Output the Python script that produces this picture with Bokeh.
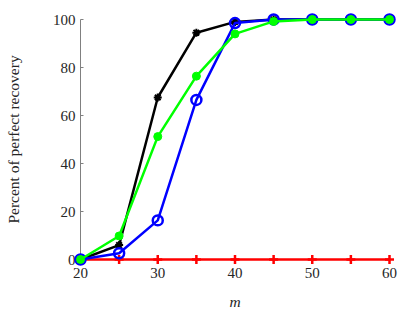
from bokeh.plotting import figure
from bokeh.models import Range1d, FixedTicker
from bokeh.embed import file_html
from bokeh.resources import INLINE

m = [20, 25, 30, 35, 40, 45, 50, 55, 60]
black_vals = [0, 6, 67.5, 94.5, 99, 100, 100, 100, 100]
blue_vals = [0, 2.6, 16.3, 66.5, 98.5, 100, 100, 100, 100]
green_vals = [0, 9.8, 51.2, 76.4, 94, 99.2, 100, 100, 100]
red_vals = [0, 0, 0, 0, 0, 0, 0, 0, 0]
x_ticks = [20, 30, 40, 50, 60]
y_ticks = [0, 20, 40, 60, 80, 100]

p = figure(output_backend="svg", toolbar_location=None,
           frame_width=309, frame_height=240,
           min_border_left=80, min_border_right=18,
           min_border_top=19, min_border_bottom=51,
           x_range=Range1d(20, 60), y_range=Range1d(0, 100))
p.outline_line_color = None
p.grid.visible = False
p.background_fill_color = "white"
p.border_fill_color = "white"

rs = []
# red
rs.append(p.line(m, red_vals, line_color="#ff0000", line_width=2.5))
rs.append(p.scatter(m, red_vals, marker="cross", size=9, line_color="#ff0000", line_width=2.5))
# black
rs.append(p.line(m, black_vals, line_color="#000000", line_width=2.5))
rs.append(p.scatter(m, black_vals, marker="asterisk", size=8, line_color="#000000", line_width=2))
# blue
rs.append(p.line(m, blue_vals, line_color="#0000ff", line_width=2.5))
rs.append(p.scatter(m, blue_vals, marker="circle", size=10, line_color="#0000ff", fill_color=None, line_width=2.5))
# green
rs.append(p.line(m, green_vals, line_color="#00ff00", line_width=2.5))
rs.append(p.scatter(m, green_vals, marker="circle", size=8, line_color="#00ff00", fill_color="#00ff00"))
for r in rs:
    r.level = "overlay"

for ax in (p.xaxis[0], p.yaxis[0]):
    ax.axis_line_color = "#808080"
    ax.axis_line_width = 1
    ax.major_tick_line_color = "#808080"
    ax.major_tick_in = 3
    ax.major_tick_out = 0
    ax.minor_tick_line_color = None
    ax.major_label_text_font = "Liberation Serif"
    ax.major_label_text_font_size = "15px"
    ax.major_label_text_color = "#262626"
    ax.axis_label_text_font = "Liberation Serif"
    ax.axis_label_text_font_size = "15.5px"
    ax.axis_label_text_color = "#262626"
    ax.axis_label_text_font_style = "normal"

p.xaxis[0].ticker = FixedTicker(ticks=x_ticks)
p.yaxis[0].ticker = FixedTicker(ticks=y_ticks)
p.xaxis[0].major_label_standoff = 8
p.yaxis[0].major_label_standoff = 5
p.xaxis[0].axis_label = "m"
p.xaxis[0].axis_label_text_font_style = "italic"
p.xaxis[0].axis_label_standoff = 12
p.yaxis[0].axis_label = "Percent of perfect recovery"
p.yaxis[0].axis_label_standoff = 28

open("out.html", "w").write(file_html(p, INLINE))
